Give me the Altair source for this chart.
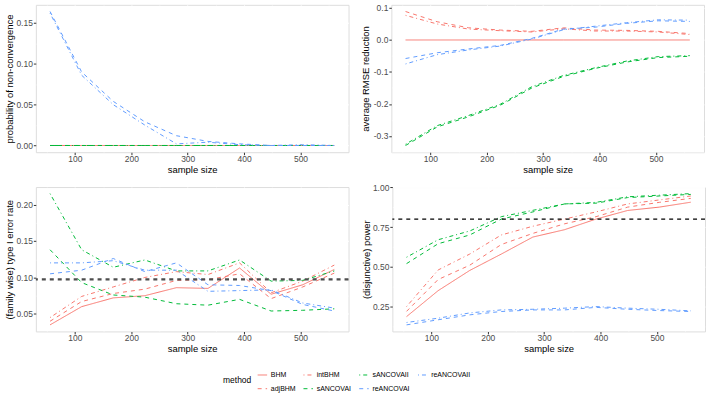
import altair as alt
import pandas as pd

# ---------------- data ----------------
sample_size = [56, 112, 168, 224, 280, 336, 392, 448, 504, 560]
methods = ["BHM", "adjBHM", "intBHM", "sANCOVAI", "sANCOVAII", "reANCOVAI", "reANCOVAII"]

# probability of non-convergence
nc_BHM = [0, 0, 0, 0, 0, 0, 0, 0, 0, 0]
nc_adjBHM = [0, 0, 0, 0, 0, 0, 0, 0, 0, 0]
nc_intBHM = [0, 0, 0, 0, 0, 0, 0, 0, 0, 0]
nc_sANCOVAI = [0, 0, 0, 0, 0, 0, 0, 0, 0, 0]
nc_sANCOVAII = [0, 0, 0, 0, 0, 0, 0, 0, 0, 0]
nc_reANCOVAI = [0.164, 0.090, 0.054, 0.029, 0.012, 0.005, 0.002, 0.000, 0.000, 0.000]
nc_reANCOVAII = [0.162, 0.086, 0.050, 0.025, 0.002, 0.004, 0.001, 0.000, 0.001, 0.000]

# average RMSE reduction
rm_BHM = [0, 0, 0, 0, 0, 0, 0, 0, 0, 0]
rm_adjBHM = [0.089, 0.057, 0.038, 0.031, 0.027, 0.038, 0.031, 0.030, 0.027, 0.020]
rm_intBHM = [0.077, 0.050, 0.034, 0.029, 0.025, 0.035, 0.028, 0.028, 0.025, 0.017]
rm_sANCOVAI = [-0.330, -0.272, -0.240, -0.204, -0.150, -0.114, -0.089, -0.069, -0.055, -0.051]
rm_sANCOVAII = [-0.326, -0.268, -0.236, -0.201, -0.146, -0.111, -0.087, -0.066, -0.052, -0.049]
rm_reANCOVAI = [-0.058, -0.040, -0.028, -0.017, 0.005, 0.034, 0.040, 0.052, 0.060, 0.058]
rm_reANCOVAII = [-0.075, -0.046, -0.031, -0.019, 0.003, 0.032, 0.043, 0.054, 0.063, 0.062]

# (family wise) type I error rate
t1_BHM = [0.035, 0.060, 0.072, 0.075, 0.086, 0.085, 0.113, 0.077, 0.090, 0.111]
t1_adjBHM = [0.040, 0.067, 0.078, 0.084, 0.096, 0.097, 0.105, 0.071, 0.087, 0.106]
t1_intBHM = [0.045, 0.074, 0.087, 0.100, 0.108, 0.104, 0.120, 0.079, 0.095, 0.117]
t1_sANCOVAI = [0.138, 0.093, 0.076, 0.073, 0.064, 0.062, 0.070, 0.054, 0.055, 0.057]
t1_sANCOVAII = [0.215, 0.138, 0.114, 0.124, 0.109, 0.109, 0.124, 0.095, 0.096, 0.109]
t1_reANCOVAI = [0.105, 0.110, 0.126, 0.108, 0.120, 0.090, 0.089, 0.082, 0.063, 0.054]
t1_reANCOVAII = [0.120, 0.120, 0.123, 0.110, 0.110, 0.081, 0.082, 0.083, 0.065, 0.058]
t1_threshold = [0.0975]

# (disjunctive) power
pw_BHM = [0.187, 0.350, 0.477, 0.580, 0.687, 0.733, 0.800, 0.854, 0.875, 0.906]
pw_adjBHM = [0.220, 0.420, 0.510, 0.640, 0.710, 0.770, 0.815, 0.875, 0.905, 0.930]
pw_intBHM = [0.250, 0.480, 0.580, 0.700, 0.755, 0.800, 0.845, 0.895, 0.920, 0.945]
pw_sANCOVAI = [0.520, 0.645, 0.700, 0.800, 0.845, 0.895, 0.900, 0.935, 0.945, 0.955]
pw_sANCOVAII = [0.560, 0.670, 0.725, 0.815, 0.855, 0.895, 0.905, 0.940, 0.950, 0.960]
pw_reANCOVAI = [0.135, 0.167, 0.198, 0.219, 0.229, 0.229, 0.245, 0.233, 0.225, 0.219]
pw_reANCOVAII = [0.150, 0.177, 0.210, 0.229, 0.233, 0.240, 0.250, 0.240, 0.233, 0.223]
pw_threshold = [0.8]

# ---------------- styles ----------------
method_colors = {
    "BHM": "#F8766D", "adjBHM": "#F8766D", "intBHM": "#F8766D",
    "sANCOVAI": "#00BA38", "sANCOVAII": "#00BA38",
    "reANCOVAI": "#619CFF", "reANCOVAII": "#619CFF",
}
method_dashes = {
    "BHM": [1, 0], "adjBHM": [4, 4], "intBHM": [1, 3, 4, 3],
    "sANCOVAI": [4, 4], "sANCOVAII": [1, 3, 4, 3],
    "reANCOVAI": [4, 4], "reANCOVAII": [1, 3, 4, 3],
}

FONT = "Liberation Sans"


def long_df(series):
    rows = []
    for m, vals in zip(methods, series):
        for n, v in zip(sample_size, vals):
            rows.append({"n": n, "method": m, "value": v})
    return pd.DataFrame(rows)


xr = max(sample_size) - min(sample_size)
xdom = [min(sample_size) - 0.05 * xr, max(sample_size) + 0.05 * xr]

legend = alt.Legend(
    title="method", orient="none", legendX=188, legendY=366, columns=4,
    symbolType="stroke", symbolStrokeWidth=1, symbolSize=90,
    labelFontSize=7, labelFont=FONT, labelColor="black", labelOffset=3,
    titleFontSize=8.5, titleFont=FONT, titleFontWeight="normal", titleColor="black",
    titleOrient="left", titlePadding=5, rowPadding=5, columnPadding=5,
)
color_enc = alt.Color("method:N", scale=alt.Scale(domain=methods,
                      range=[method_colors[m] for m in methods]), legend=legend)
dash_enc = alt.StrokeDash("method:N", scale=alt.Scale(domain=methods,
                          range=[method_dashes[m] for m in methods]), legend=legend)


def cond(test, a, b):
    return {"condition": {"test": test, "value": a}, "value": b}


def panel(series, ytitle, major, minor_vals, fmt, height, thr=None, thr_color="black", thr_width=1.0):
    df = long_df(series)
    allv = list(df["value"]) + (thr if thr else [])
    lo, hi = min(allv), max(allv)
    r = hi - lo
    ydom = [lo - 0.05 * r, hi + 0.05 * r]
    yvals = [v for v in minor_vals if ydom[0] <= v <= ydom[1]]
    ytest = f"abs(datum.value/{major} - round(datum.value/{major})) < 1e-6"
    xtest = "datum.value % 100 === 0"
    xaxis = alt.Axis(
        title="sample size", values=list(range(50, 600, 50)),
        labelExpr=f"{xtest} ? datum.label : ''", format="d",
        grid=True, gridColor="white", gridWidth=cond(xtest, 1.0, 0.5),
        tickOpacity=cond(xtest, 1, 0), tickSize=2.5, tickColor="#333333",
        domain=False, labelPadding=0, labelColor="#4D4D4D", labelFontSize=8.5,
        labelFont=FONT, labelOverlap=False, labelFlush=False,
        titleFont=FONT, titleFontSize=9.5, titleFontWeight="normal", titleColor="black",
        titlePadding=1,
    )
    yaxis = alt.Axis(
        title=ytitle, values=yvals,
        labelExpr=f"{ytest} ? replace(format(datum.value, '{fmt}'), '\u2212', '-') : ''",
        grid=True, gridColor="white", gridWidth=cond(ytest, 1.0, 0.5),
        tickOpacity=cond(ytest, 1, 0), tickSize=2.5, tickColor="#333333",
        domain=False, labelPadding=1, labelColor="#4D4D4D", labelFontSize=8.5,
        labelFont=FONT, labelOverlap=False, labelFlush=False,
        minExtent=20, maxExtent=20,
        titleFont=FONT, titleFontSize=9.5, titleFontWeight="normal", titleColor="black",
        titlePadding=1,
    )
    xenc = alt.X("n:Q", scale=alt.Scale(domain=xdom, nice=False, zero=False), axis=xaxis)
    yenc = alt.Y("value:Q", scale=alt.Scale(domain=ydom, nice=False, zero=False), axis=yaxis)
    lines = alt.Chart(df).mark_line(strokeWidth=1, clip=True).encode(
        x=xenc,
        y=yenc,
        color=color_enc,
        strokeDash=dash_enc,
        detail="method:N",
    )
    layers = [lines]
    if thr:
        rule = alt.Chart(pd.DataFrame({"value": thr})).mark_rule(
            color=thr_color, strokeWidth=thr_width, strokeDash=[4, 4]
        ).encode(y=yenc)
        layers.append(rule)
    return alt.layer(*layers).properties(width=314, height=height)


def steps(a, b, s):
    out = []
    k = 0
    while True:
        v = round(a + k * s, 4)
        if v > b + 1e-9:
            break
        out.append(v)
        k += 1
    return out


p1 = panel([nc_BHM, nc_adjBHM, nc_intBHM, nc_sANCOVAI, nc_sANCOVAII, nc_reANCOVAI, nc_reANCOVAII],
           "probability of non-convergence", 0.05, steps(-0.025, 0.2, 0.025), ".2f", 148)
p2 = panel([rm_BHM, rm_adjBHM, rm_intBHM, rm_sANCOVAI, rm_sANCOVAII, rm_reANCOVAI, rm_reANCOVAII],
           "average RMSE reduction", 0.1, steps(-0.4, 0.15, 0.05), ".1f", 148)
p3 = panel([t1_BHM, t1_adjBHM, t1_intBHM, t1_sANCOVAI, t1_sANCOVAII, t1_reANCOVAI, t1_reANCOVAII],
           "(family wise) type I error rate", 0.05, steps(0.0, 0.25, 0.025), ".2f", 145,
           thr=t1_threshold, thr_color="#4D4D4D", thr_width=2.2)
p4 = panel([pw_BHM, pw_adjBHM, pw_intBHM, pw_sANCOVAI, pw_sANCOVAII, pw_reANCOVAI, pw_reANCOVAII],
           "(disjunctive) power", 0.25, steps(0.0, 1.125, 0.125), ".2f", 145,
           thr=pw_threshold, thr_color="black", thr_width=1.2)

top = alt.hconcat(p1, p2, spacing=10)
bottom = alt.hconcat(p3, p4, spacing=10)

chart = alt.vconcat(top, bottom, spacing=8).resolve_scale(
    color="shared", strokeDash="shared", x="independent", y="independent"
).properties(
    padding={"left": 4, "top": 2, "right": 2, "bottom": 2}
).configure_view(
    fill="#EBEBEB", stroke=None
).configure(
    font=FONT, background="white"
)

chart.save("out.html", embed_options={"renderer": "svg", "actions": False})
